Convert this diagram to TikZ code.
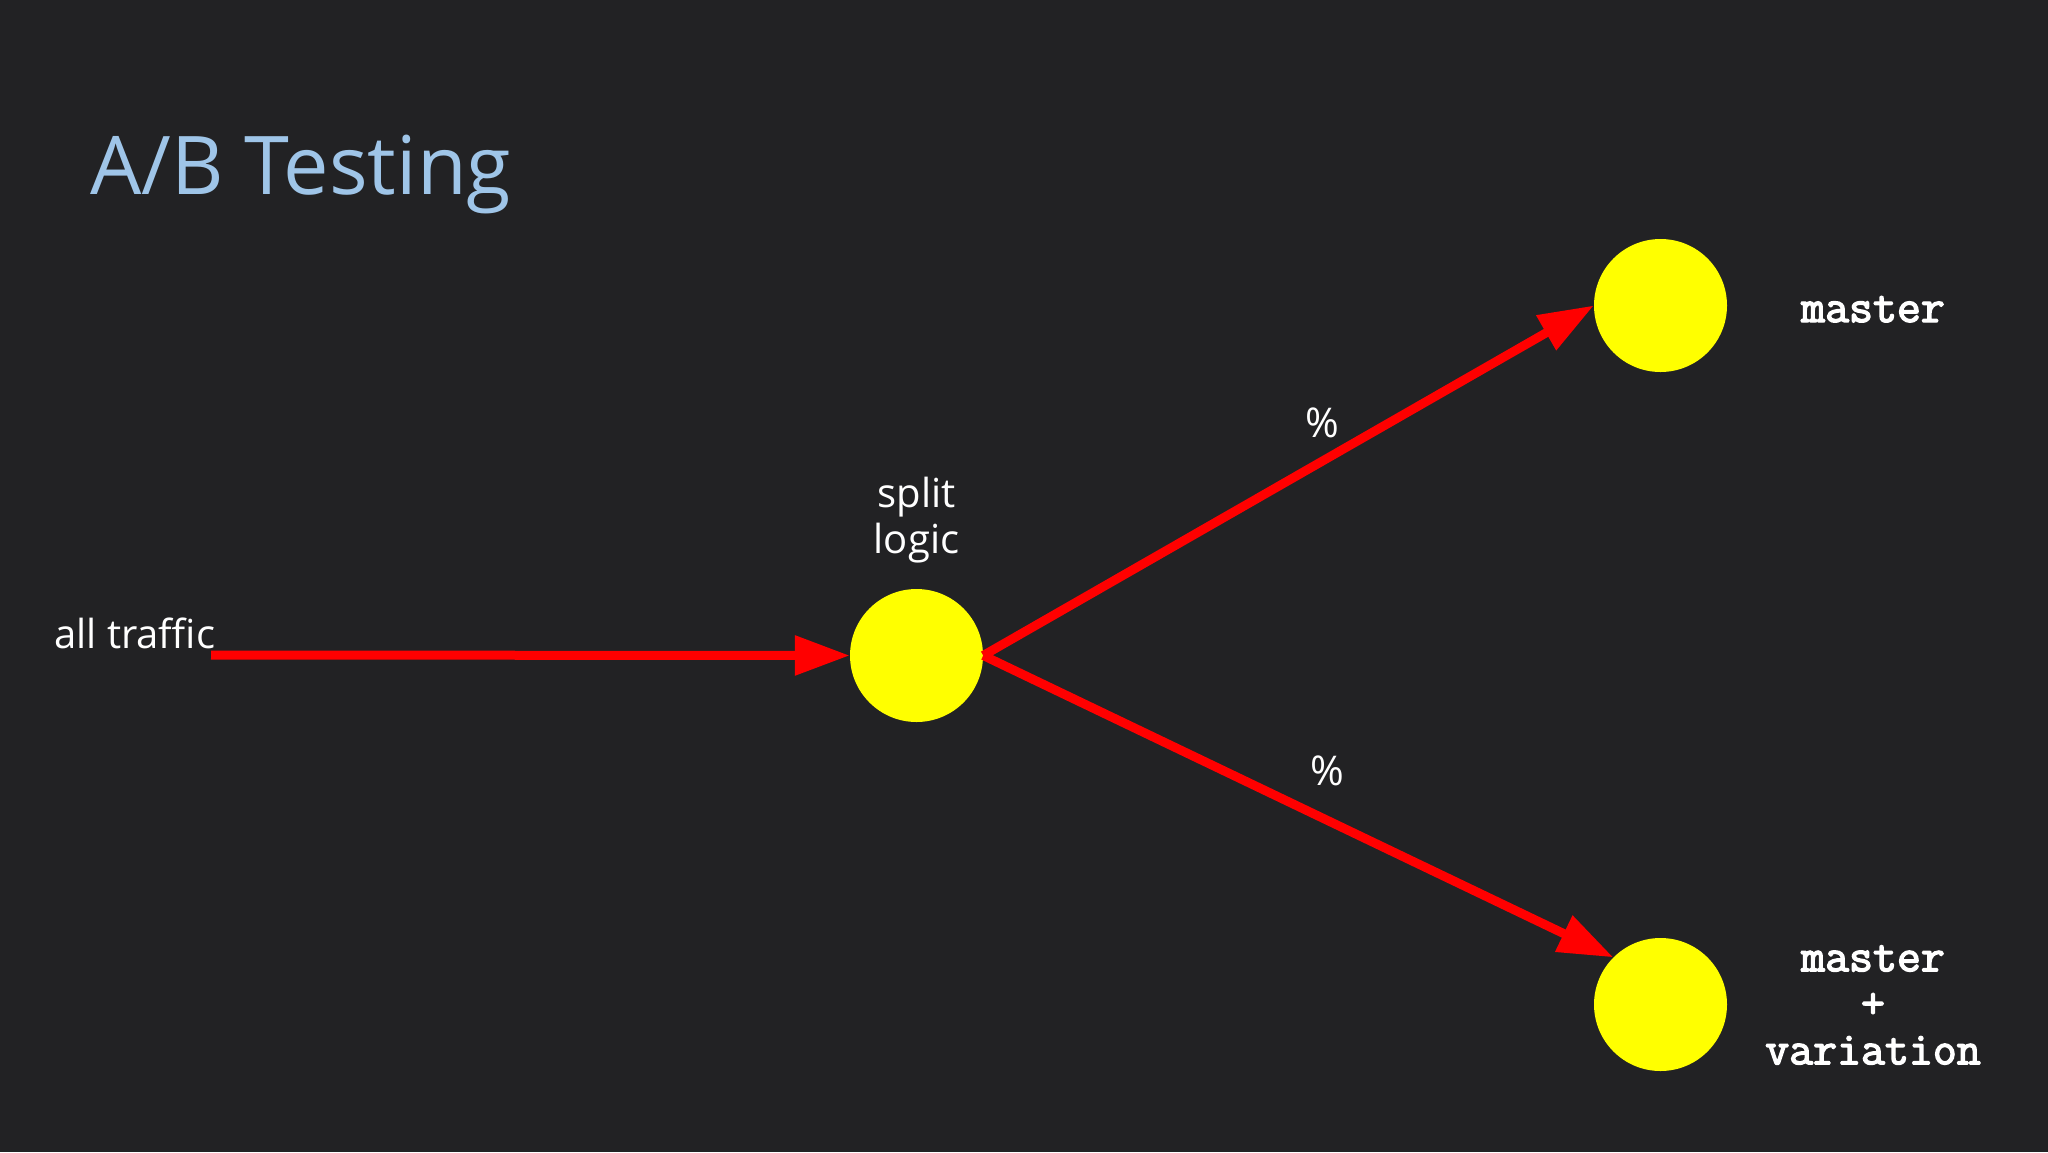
\documentclass[tikz,border=0pt]{standalone}
\usepackage{fontspec}
\setmainfont{Open Sans}
\newfontfamily\codefont[FakeBold=3]{Latin Modern Mono}
\usetikzlibrary{arrows.meta}
\definecolor{bgcol}{RGB}{34,34,36}
\definecolor{titleblue}{HTML}{9FC5E8}
\definecolor{arrowred}{HTML}{FF0000}
\definecolor{dotyellow}{HTML}{FFFF00}
\begin{document}
\begin{tikzpicture}[x=1pt,y=-1pt,
  dot/.style={circle,fill=dotyellow,draw=none,minimum size=133pt,inner sep=0pt},
  flow/.style={draw=arrowred,line width=9pt,-{Triangle[length=55pt,width=38pt]}},
  lbl/.style={text=white,inner sep=0pt,font=\fontsize{40}{46}\selectfont,align=center},
  pct/.style={text=white,inner sep=0pt,font=\fontsize{41}{46}\selectfont},
  code/.style={text=white,inner sep=0pt,font=\codefont\fontsize{46.5}{46.5}\selectfont,align=center}]
\fill[bgcol] (0,0) rectangle (2048,1152);
\useasboundingbox (0,0) rectangle (2048,1152);
\node[text=titleblue,inner sep=0pt,anchor=base west,font=\fontsize{81}{92}\selectfont] (title) at (90,194) {A/B Testing};
\node[dot] (split) at (916.5,655.5) {};
\node[dot] (master) at (1660.5,305.5) {};
\node[dot] (variation) at (1660.5,1004.5) {};
\node[lbl,anchor=base west] (all) at (54,648) {all traffic};
\coordinate (start) at (211,655);
\node[lbl] (splitlbl) at (916.5,520) {split\\logic};
\node[pct] (p1) at (1322,423) {\%};
\node[pct] (p2) at (1327,771) {\%};
\node[code,anchor=base] (mlbl) at (1873,322) {master};
\node[code] (vlbl) at (1873,1005) {master\\+\\variation};
\draw[flow] (start) -- (split.west);
\draw[flow] (split.east) -- (master.west);
\draw[flow] (split.east) -- (variation.north west);
\end{tikzpicture}
\end{document}
